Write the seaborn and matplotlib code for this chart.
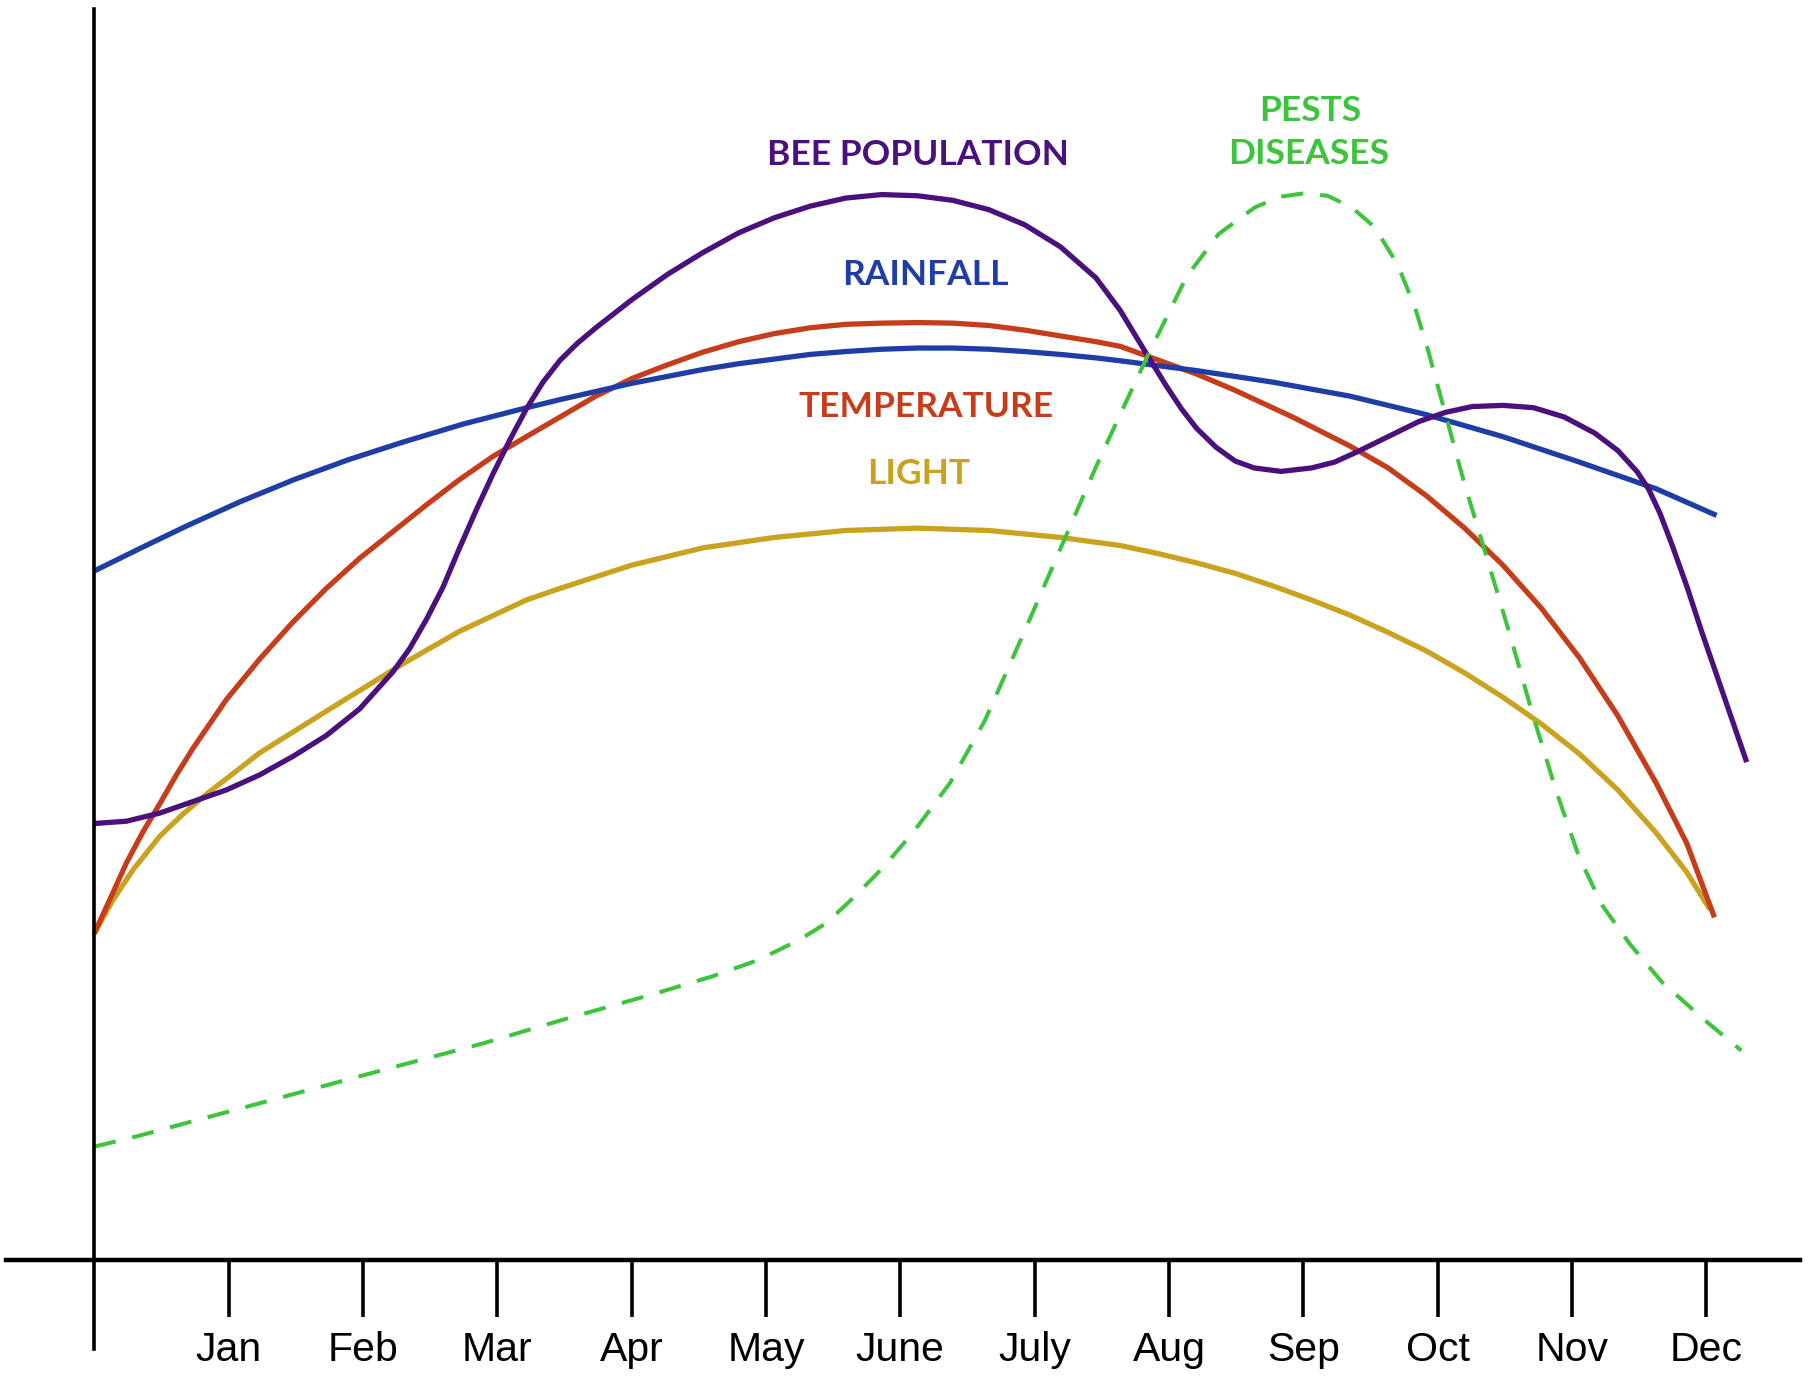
import matplotlib

matplotlib.use("Agg")
import matplotlib.pyplot as plt
import seaborn as sns

# x in months (0 = vertical axis, 1 = Jan ... 12 = Dec), y in arbitrary units
months = ["Jan", "Feb", "Mar", "Apr", "May", "June", "July", "Aug", "Sep", "Oct", "Nov", "Dec"]
month_pos = [1, 2, 3, 4, 5, 6, 7, 8, 9, 10, 11, 12]

rain_x = [0.00, 0.35, 0.69, 1.09, 1.49, 1.89, 2.29, 2.75, 3.22, 3.468, 3.734, 3.999, 4.266,
          4.532, 4.798, 5.063, 5.329, 5.595, 5.861, 6.127, 6.393, 6.659, 6.925, 7.191, 7.457,
          7.637, 8.207, 8.777, 9.346, 9.916, 10.486, 11.056, 11.626, 12.076]
rain_y = [59.5, 61.5, 63.4, 65.5, 67.4, 69.1, 70.6, 72.2, 73.6, 74.3, 75.0, 75.7, 76.3,
          76.9, 77.4, 77.8, 78.2, 78.45, 78.65, 78.75, 78.75, 78.65, 78.45, 78.2, 77.9,
          77.65, 76.8, 75.8, 74.6, 73.0, 71.1, 68.9, 66.6, 64.3]

temp_x = [0.00, 0.115, 0.240, 0.364, 0.488, 0.612, 0.736, 0.984, 1.232, 1.480, 1.728, 1.976,
          2.224, 2.472, 2.720, 2.969, 3.217, 3.468, 3.734, 3.999, 4.266, 4.532, 4.798, 5.063,
          5.329, 5.595, 5.861, 6.127, 6.393, 6.659, 6.925, 7.191, 7.457, 7.637, 7.922, 8.207,
          8.492, 8.919, 9.346, 9.631, 9.916, 10.201, 10.486, 10.771, 11.056, 11.341, 11.626,
          11.854, 12.06]
temp_y = [28.2, 31.1, 34.3, 37.0, 39.4, 41.9, 44.2, 48.4, 51.9, 55.1, 58.0, 60.6,
          62.9, 65.2, 67.4, 69.4, 71.1, 72.8, 74.6, 76.1, 77.3, 78.4, 79.3, 80.0,
          80.5, 80.8, 80.9, 80.95, 80.9, 80.7, 80.3, 79.8, 79.3, 78.9, 77.7, 76.5,
          75.1, 72.8, 70.3, 68.4, 66.0, 63.2, 60.0, 56.3, 52.0, 47.0, 41.2,
          36.0, 29.6]

light_x = [0.00, 0.140, 0.289, 0.488, 0.650, 0.810, 1.232, 1.728, 2.299, 2.720, 3.217, 3.468,
           3.999, 4.532, 5.063, 5.595, 6.127, 6.659, 7.191, 7.637, 7.922, 8.207, 8.492, 8.777,
           9.061, 9.346, 9.631, 9.916, 10.201, 10.486, 10.771, 11.056, 11.341, 11.626, 11.854,
           12.025]
light_y = [28.2, 31.1, 33.7, 36.6, 38.4, 40.0, 43.8, 47.4, 51.5, 54.3, 57.0, 58.0,
           60.0, 61.5, 62.4, 63.0, 63.2, 63.0, 62.4, 61.7, 61.0, 60.2, 59.3, 58.2,
           57.0, 55.7, 54.2, 52.6, 50.7, 48.6, 46.3, 43.7, 40.6, 36.9, 33.5,
           30.3]

bee_x = [0.00, 0.24, 0.488, 0.736, 0.984, 1.232, 1.48, 1.728, 1.976, 2.224, 2.348, 2.472,
         2.596, 2.72, 2.845, 2.969, 3.093, 3.217, 3.34, 3.468, 3.60, 3.734, 3.999, 4.266,
         4.532, 4.798, 5.063, 5.329, 5.595, 5.861, 6.127, 6.393, 6.659, 6.925, 7.191, 7.457,
         7.637, 7.851, 7.979, 8.093, 8.207, 8.349, 8.492, 8.634, 8.834, 9.061, 9.232, 9.403,
         9.631, 9.859, 10.059, 10.258, 10.486, 10.714, 10.942, 11.170, 11.341, 11.483,
         11.569, 11.654, 11.740, 11.854, 11.967, 12.104, 12.30]
bee_y = [37.7, 37.9, 38.6, 39.6, 40.6, 41.9, 43.5, 45.3, 47.6, 50.8, 52.8, 55.3,
         58.1, 61.5, 64.8, 67.9, 70.8, 73.5, 75.8, 77.7, 79.2, 80.5, 82.9, 85.1,
         87.0, 88.7, 90.0, 91.0, 91.7, 92.0, 91.9, 91.5, 90.7, 89.4, 87.5, 84.8,
         82.0, 77.9, 75.5, 73.5, 71.8, 70.2, 69.0, 68.4, 68.1, 68.4, 68.9, 69.8,
         71.1, 72.4, 73.2, 73.7, 73.8, 73.6, 72.8, 71.4, 69.9, 68.1,
         66.6, 64.5, 61.9, 58.2, 54.2, 49.6, 43.0]

pest_x = [0.00, 0.32, 0.96, 1.60, 2.24, 2.89, 3.53, 4.17, 4.60, 4.94, 5.24, 5.45, 5.66, 5.88,
          6.10, 6.37, 6.63, 6.925, 7.191, 7.457, 7.616, 7.85, 8.13, 8.37, 8.64, 8.82, 9.00,
          9.18, 9.36, 9.53, 9.70, 9.83, 9.93, 10.00, 10.20, 10.37, 10.54, 10.71, 10.885,
          11.056, 11.227, 11.43, 11.67, 11.99, 12.26]
pest_y = [9.8, 10.7, 12.7, 14.7, 16.7, 18.7, 20.9, 23.0, 24.5, 25.9, 27.6, 29.1, 31.4, 34.0,
          37.0, 41.2, 46.6, 54.3, 61.4, 68.5, 72.5, 78.3, 84.9, 88.6, 90.9, 91.8, 92.1,
          91.9, 90.9, 89.2, 86.0, 82.3, 78.5, 75.5, 67.0, 60.5, 53.9, 47.0, 40.4,
          34.7, 30.6, 27.3, 24.0, 20.7, 18.1]

PURPLE = "#4a117c"
BLUE = "#1e3ea6"
RED = "#c63d1c"
GOLD = "#c9a21f"
GREEN = "#3cc43c"

sns.set_style("white")
plt.rcParams["font.family"] = ["Liberation Sans", "DejaVu Sans"]

fig = plt.figure(figsize=(18.16, 13.76), dpi=100)
ax = fig.add_axes([0, 0, 1, 1])

lw = 3.8
sns.lineplot(x=light_x, y=light_y, ax=ax, color=GOLD, linewidth=lw, estimator=None, sort=False)
sns.lineplot(x=temp_x, y=temp_y, ax=ax, color=RED, linewidth=lw, estimator=None, sort=False)
sns.lineplot(x=rain_x, y=rain_y, ax=ax, color=BLUE, linewidth=lw, estimator=None, sort=False)
sns.lineplot(x=bee_x, y=bee_y, ax=ax, color=PURPLE, linewidth=lw, estimator=None, sort=False)
sns.lineplot(x=pest_x, y=pest_y, ax=ax, color=GREEN, linewidth=2.9, estimator=None, sort=False)
ax.lines[-1].set_dashes((5.5, 4.2))
ax.lines[-1].set_dash_capstyle("butt")
for line in ax.lines[:-1]:
    line.set_solid_joinstyle("round")
    line.set_solid_capstyle("butt")

ax.set_xlim(-0.701, 12.816)
ax.set_ylim(-10.0, 108.8)

# axes drawn as crossing spines
for side in ["top", "right"]:
    ax.spines[side].set_visible(False)
ax.spines["left"].set_position(("data", 0))
ax.spines["left"].set_bounds(-7.7, 108.0)
ax.spines["left"].set_linewidth(2.6)
ax.spines["left"].set_color("black")
ax.spines["bottom"].set_position(("data", 0))
ax.spines["bottom"].set_bounds(-0.657, 12.70)
ax.spines["bottom"].set_linewidth(3.2)
ax.spines["bottom"].set_color("black")

ax.set_yticks([])
ax.set_xticks(month_pos)
ax.set_xticklabels(months)
ax.tick_params(axis="x", direction="out", length=41, width=2.6, color="black",
               pad=10, labelsize=29.5, labelcolor="black", bottom=True)
ax.set_xlabel("")
ax.set_ylabel("")

label_font = dict(family=["Lato", "DejaVu Sans"], fontweight="bold", fontsize=25.5,
                  ha="center", va="center")
ax.text(6.13, 95.4, "BEE POPULATION", color=PURPLE, **label_font)
ax.text(6.19, 85.1, "RAINFALL", color=BLUE, **label_font)
ax.text(6.19, 73.7, "TEMPERATURE", color=RED, **label_font)
ax.text(6.14, 67.9, "LIGHT", color=GOLD, **label_font)
ax.text(9.05, 99.2, "PESTS", color=GREEN, **label_font)
ax.text(9.04, 95.5, "DISEASES", color=GREEN, **label_font)

fig.savefig("out.png", dpi=100)
plt.close(fig)
